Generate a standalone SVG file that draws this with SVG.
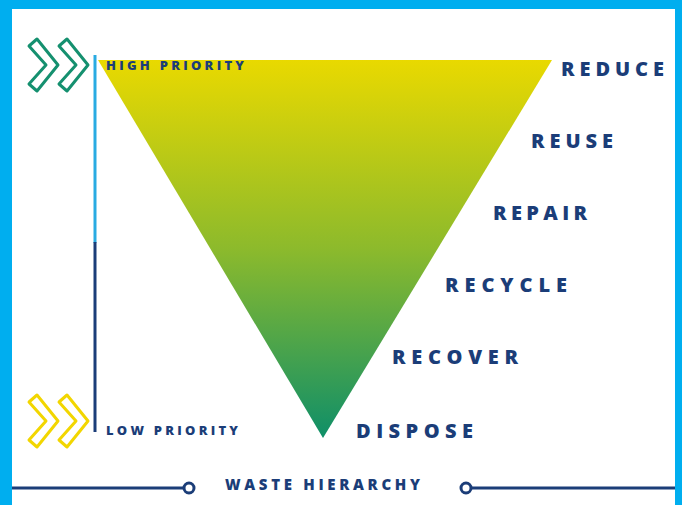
<svg xmlns="http://www.w3.org/2000/svg" width="682" height="505" viewBox="0 0 682 505">
<defs>
<linearGradient id="tri" x1="0" y1="0" x2="0" y2="1">
<stop offset="0" stop-color="#e9d900"/>
<stop offset="0.5" stop-color="#8cba2c"/>
<stop offset="1" stop-color="#0f8f68"/>
</linearGradient>
<style>
.lbl{font-family:"Open Sans","Liberation Sans",sans-serif;font-weight:800;fill:#1b3d78;}
.big{font-size:20px;}
.small{font-size:13px;}
.mid{font-size:15px;}
.chev{fill:none;stroke-width:3;stroke-linejoin:round;}
.navy{stroke:#1b3d78;fill:none;}
</style>
</defs>
<rect x="0" y="0" width="682" height="505" fill="#00aeef"/>
<rect x="12" y="9" width="663" height="496" fill="#ffffff"/>
<g id="pyramid">
<polygon points="98,60 552,60 323,438" fill="url(#tri)"/>
</g>
<g id="axis">
<line x1="95" y1="55" x2="95" y2="243" stroke="#29abe2" stroke-width="3"/>
<line x1="95" y1="242" x2="95" y2="432" stroke="#1b3d78" stroke-width="3"/>
</g>
<g id="chevrons-high">
<polygon class="chev" stroke="#15906f" points="29,46 37,39 58,65 37,91 29,84 46,65"/>
<polygon class="chev" stroke="#15906f" points="59,46 67,39 88,65 67,91 59,84 76,65"/>
</g>
<g id="chevrons-low">
<polygon class="chev" stroke="#f2d600" points="29,402 37,395 58,421 37,447 29,440 46,421"/>
<polygon class="chev" stroke="#f2d600" points="59,402 67,395 88,421 67,447 59,440 76,421"/>
</g>
<g id="high-priority"><text class="lbl small" x="106" y="70" textLength="138" lengthAdjust="spacing">HIGH PRIORITY</text></g>
<g id="low-priority"><text class="lbl small" x="106" y="435" textLength="132" lengthAdjust="spacing">LOW PRIORITY</text></g>
<g id="reduce"><text class="lbl big" x="561" y="76" textLength="103" lengthAdjust="spacing">REDUCE</text></g>
<g id="reuse"><text class="lbl big" x="531" y="148" textLength="82" lengthAdjust="spacing">REUSE</text></g>
<g id="repair"><text class="lbl big" x="493" y="220" textLength="94" lengthAdjust="spacing">REPAIR</text></g>
<g id="recycle"><text class="lbl big" x="445" y="292" textLength="122" lengthAdjust="spacing">RECYCLE</text></g>
<g id="recover"><text class="lbl big" x="392" y="364" textLength="126" lengthAdjust="spacing">RECOVER</text></g>
<g id="dispose"><text class="lbl big" x="356" y="438" textLength="117" lengthAdjust="spacing">DISPOSE</text></g>
<g id="title"><text class="lbl mid" x="225" y="490" textLength="195" lengthAdjust="spacing">WASTE HIERARCHY</text></g>
<g id="connectors">
<line class="navy" x1="12" y1="488" x2="184" y2="488" stroke-width="3"/>
<circle class="navy" cx="189" cy="488" r="5" stroke-width="3"/>
<circle class="navy" cx="466" cy="488" r="5" stroke-width="3"/>
<line class="navy" x1="471" y1="488" x2="675" y2="488" stroke-width="3"/>
</g>
</svg>
